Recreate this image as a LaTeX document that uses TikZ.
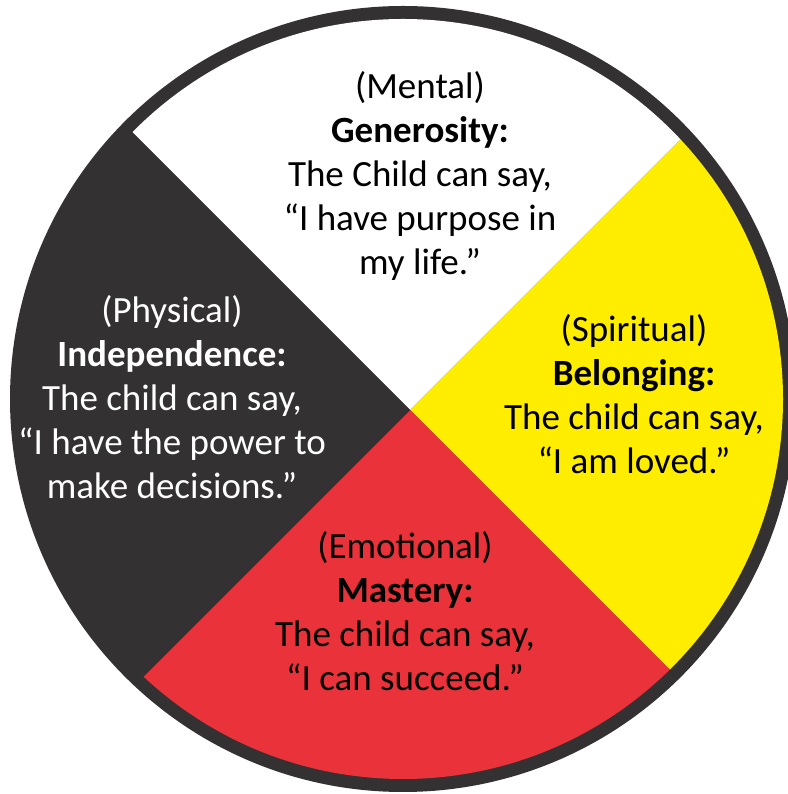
\documentclass[tikz,border=0pt]{standalone}
\usepackage{fontspec}
\setmainfont{Carlito}
\usetikzlibrary{calc}
\usetikzlibrary{positioning}

\definecolor{wheelblack}{RGB}{51,49,50}
\definecolor{wheelred}{RGB}{234,50,58}
\definecolor{wheelyellow}{RGB}{255,237,0}

\begin{document}
\begin{tikzpicture}[x=1pt,y=1pt,
  quarter/.style={align=center,font=\fontsize{37}{44}\selectfont,inner sep=0pt}]

\useasboundingbox[fill=white] (0,0) rectangle (787,794);

\coordinate (o) at (403,395);
\coordinate (hub) at (410,384);

\fill[wheelblack] (o) circle (393);
\begin{scope}
\clip (o) circle (380);
\fill[white] (hub) -- ++(-600,600) -- ++(1200,0) -- cycle;
\fill[wheelyellow] (hub) -- ++(600,600) -- ++(0,-1200) -- cycle;
\fill[wheelred] (hub) -- ++(600,-600) -- ++(-1200,0) -- cycle;
\fill[wheelblack] (hub) -- ++(-600,-600) -- ++(0,1200) -- cycle;
\end{scope}

\node[quarter] (mental) at (420,618) {(Mental)\\\textbf{Generosity:}\\The Child can say,\\“I have purpose in\\my life.”};
\node[quarter,text=white] (physical) at (172,397) {(Physical)\\\textbf{Independence:}\\The child can say,\\“I have the power to\\make decisions.”};
\node[quarter] (spiritual) at (634,400) {(Spiritual)\\\textbf{Belonging:}\\The child can say,\\“I am loved.”};
\node[quarter] (emotional) at (405,183) {(Emotional)\\\textbf{Mastery:}\\The child can say,\\“I can succeed.”};

\end{tikzpicture}
\end{document}
